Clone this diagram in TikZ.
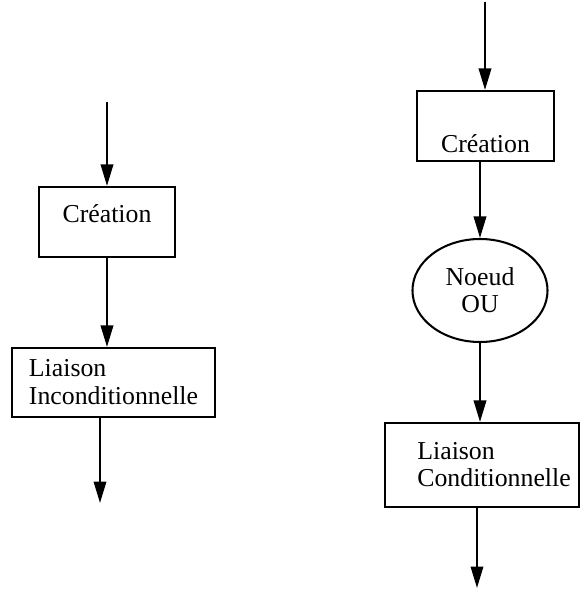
\documentclass[tikz,border=0pt]{standalone}
\usepackage{fontspec}
\setmainfont{Liberation Serif}
\usetikzlibrary{shapes.geometric,arrows.meta}

\begin{document}
\begin{tikzpicture}[x=0.465pt,y=-0.465pt,line width=0.95pt,
                    fleche/.style={-{Triangle[length=10pt,width=5.8pt]}},
                    boite/.style={draw,rectangle,inner sep=0pt,font=\fontsize{12}{13}\selectfont},
                    noeud/.style={draw,ellipse,inner sep=0pt,align=center,font=\fontsize{12}{12.6}\selectfont}]
                    \useasboundingbox (0,0) rectangle (581,592);

                    % colonne de gauche
                    \coordinate (ghaut) at (107,102);
                    \node[boite,minimum width=63.2pt,text height=16.3pt,text depth=16.3pt] (gcrea) at (107,222) {Création};
                    \node[boite,minimum width=94.4pt,minimum height=32.1pt,align=left] (gliai) at (113.5,382.5) {Liaison\\Inconditionnelle};
                    \coordinate (gbas) at (100,503);

                    \draw[fleche] (ghaut) -- (ghaut |- gcrea.north);
                    \draw[fleche] (gcrea.south) -- (gcrea.south |- gliai.north);
                    \draw[fleche] (gbas |- gliai.south) -- (gbas);

                    % colonne de droite
                    \coordinate (dhaut) at (485,2);
                    \node[boite,minimum width=63.7pt,text height=28.4pt,text depth=4.2pt] (dcrea) at (485.5,126) {Création};
                    \node[noeud,minimum width=62.8pt,minimum height=47.9pt] (dou) at (480,290.5) {Noeud\\OU};
                    \node[boite,minimum width=90.2pt,inner xsep=3.8pt,minimum height=39.1pt,align=left,font=\fontsize{12}{12.6}\selectfont] (dliai) at (482,465) {\hspace*{11.2pt}Liaison\\\hspace*{11.2pt}Conditionnelle};
                    \coordinate (dbas) at (477,588);

                    \draw[fleche] (dhaut) -- (dhaut |- dcrea.north);
                    \draw[fleche] (dcrea.south -| dou.north) -- (dou.north);
                    \draw[fleche] (dou.south) -- (dou.south |- dliai.north);
                    \draw[fleche] (dbas |- dliai.south) -- (dbas);

                \end{tikzpicture}
\end{document}
